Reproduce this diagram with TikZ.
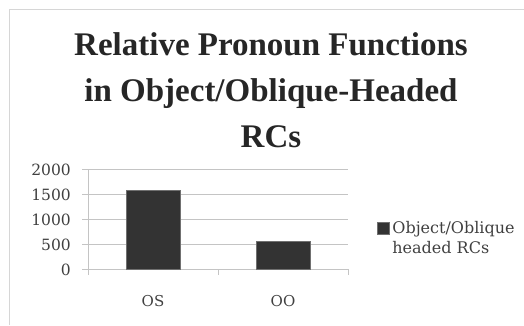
\documentclass[tikz,border=0pt]{standalone}
\usepackage{fontspec}
\setmainfont{Liberation Serif}
\newfontfamily\chartfont{DejaVu Serif}
\usetikzlibrary{positioning}

\definecolor{barfill}{HTML}{333333}
\definecolor{gridgray}{HTML}{C4C4C4}
\definecolor{framegray}{HTML}{D6D6D6}
\definecolor{labelgray}{HTML}{404040}

\begin{document}
\begin{tikzpicture}[x=1pt, y=-1pt,
  gridline/.style={draw=gridgray, line width=0.8pt},
  ticklabel/.style={anchor=east, inner sep=0pt, text=labelgray, font=\chartfont\fontsize{15.5}{17}\selectfont},
  catlabel/.style={inner sep=0pt, text=labelgray, font=\chartfont\fontsize{15}{17}\selectfont},
  bar/.style={draw=barfill!70, fill=barfill, inner sep=0pt, anchor=south, minimum width=54pt}]
  \useasboundingbox (0,0) rectangle (524,325);
  \draw[framegray, line width=1pt] (9,325) -- (9,9) -- (524,9);

  \node[anchor=north, align=center, inner sep=0pt, text=black!85,
        font=\bfseries\fontsize{33}{46}\selectfont] (title) at (271,32)
        {Relative Pronoun Functions\\in Object/Oblique-Headed\\RCs};

  \foreach \v/\y in {0/269, 500/244, 1000/219, 1500/194, 2000/169} {
    \draw[gridline] (82,\y) -- (348,\y);
    \node[ticklabel] (ytick-\v) at (71,\y+1) {\v};
  }
  \draw[gridline] (88,169) -- (88,275);
  \draw[gridline] (218,269) -- (218,275);
  \draw[gridline] (348,269) -- (348,275);

  \node[bar, minimum height=79pt] (bar-OS) at (153,269) {};
  \node[bar, minimum height=28pt] (bar-OO) at (283,269) {};
  \node[catlabel] (cat-OS) at (153,301) {OS};
  \node[catlabel] (cat-OO) at (283,301) {OO};

  \node[draw=barfill!70, fill=barfill, inner sep=0pt, minimum size=12pt] (legendkey) at (383,228) {};
  \node[right=3pt of legendkey.north east, anchor=north west, align=left, inner sep=0pt,
        text=labelgray, font=\chartfont\fontsize{16}{20}\selectfont, yshift=1pt] (legendtext)
        {Object/Oblique\\headed RCs};
\end{tikzpicture}
\end{document}
